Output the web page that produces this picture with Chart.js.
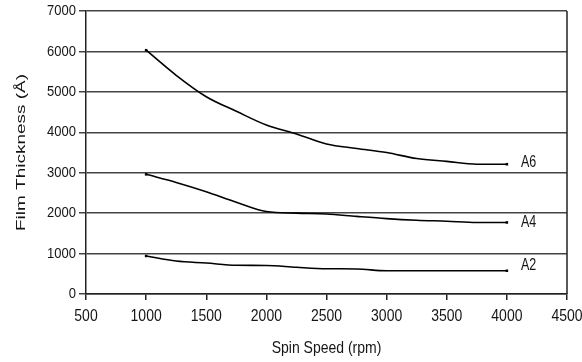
<!DOCTYPE html>
<html>
<head>
<meta charset="utf-8">
<script src="https://cdn.jsdelivr.net/npm/chart.js@4.4.1/dist/chart.umd.min.js"></script>
<style>
  html, body { margin: 0; padding: 0; background: #fff; }
  #wrap { width: 582px; height: 362px; position: relative; }
</style>
</head>
<body>
<div id="wrap"><canvas id="c" width="582" height="362"></canvas></div>
<script>
// ---- Data ----
const rpm = [1000, 1250, 1500, 1750, 2000, 2250, 2500, 2750, 3000, 3250, 3500, 3750, 4000];
const a6 = [6030, 5410, 4880, 4520, 4180, 3960, 3710, 3600, 3500, 3350, 3280, 3210, 3210];
const a4 = [2960, 2760, 2530, 2270, 2040, 2000, 1980, 1920, 1865, 1825, 1800, 1770, 1770];
const a2 = [940, 815, 765, 710, 705, 660, 625, 620, 575, 575, 575, 575, 575];
const seriesNames = ['A6', 'A4', 'A2'];
const xTicks = [500, 1000, 1500, 2000, 2500, 3000, 3500, 4000, 4500];
const yTicks = [0, 1000, 2000, 3000, 4000, 5000, 6000, 7000];
const xTitle = 'Spin Speed (rpm)';
const yTitle = 'Film Thickness (Å)';

const FONT = '"Liberation Sans", Arial, Helvetica, sans-serif';
const TXT = '#161616';

function ds(name, vals) {
  const last = vals.length - 1;
  return {
    label: name,
    data: rpm.map((x, i) => ({ x: x, y: vals[i] })),
    borderColor: '#000',
    backgroundColor: '#000',
    borderWidth: 1.6,
    cubicInterpolationMode: 'monotone',
    pointStyle: 'rect',
    pointRadius: (ctx) => (ctx.dataIndex === 0 || ctx.dataIndex === last) ? 1.8 : 0,
    pointBorderWidth: 0,
    fill: false
  };
}

const labelDy = { A6: -2, A4: 0, A2: -5 };

function tallText(ctx, text, x, y, sy) {
  ctx.save();
  ctx.translate(x, y);
  ctx.scale(1, sy);
  ctx.fillText(text, 0, 0);
  ctx.restore();
}

const decor = {
  id: 'decor',
  afterDraw(chart) {
    const ctx = chart.ctx;
    const ca = chart.chartArea;
    const xs = chart.scales.x, ys = chart.scales.y;
    ctx.save();
    // right border
    ctx.strokeStyle = '#222';
    ctx.lineWidth = 1.5;
    ctx.beginPath();
    ctx.moveTo(ca.right, ca.top);
    ctx.lineTo(ca.right, ca.bottom);
    ctx.stroke();

    ctx.fillStyle = TXT;

    // y tick labels
    ctx.font = '13px ' + FONT;
    ctx.textAlign = 'right';
    ctx.textBaseline = 'middle';
    yTicks.forEach((v) => tallText(ctx, String(v), ca.left - 10, ys.getPixelForValue(v), 1.15));

    // x tick labels
    ctx.font = '14px ' + FONT;
    ctx.textAlign = 'center';
    xTicks.forEach((v) => tallText(ctx, String(v), xs.getPixelForValue(v), ca.bottom + 23, 1.15));

    // series labels
    ctx.font = '12.5px ' + FONT;
    ctx.textAlign = 'left';
    chart.data.datasets.forEach((d) => {
      const p = d.data[d.data.length - 1];
      const px = xs.getPixelForValue(p.x) + 14;
      const py = ys.getPixelForValue(p.y) + (labelDy[d.label] || 0);
      tallText(ctx, d.label, px, py, 1.3);
    });

    // x title
    ctx.font = '14px ' + FONT;
    ctx.textAlign = 'center';
    tallText(ctx, xTitle, (ca.left + ca.right) / 2, 349, 1.15);

    // y title (stretched along its length as in the reference)
    ctx.font = '12px ' + FONT;
    const w = ctx.measureText(yTitle).width;
    const sx = 157 / w;
    ctx.translate(22, (ca.top + ca.bottom) / 2);
    ctx.rotate(-Math.PI / 2);
    ctx.scale(sx, 1);
    ctx.fillText(yTitle, 0, 0);
    ctx.restore();
  }
};

new Chart(document.getElementById('c'), {
  type: 'line',
  data: { datasets: [ds('A6', a6), ds('A4', a4), ds('A2', a2)] },
  options: {
    responsive: false,
    animation: false,
    layout: { padding: { top: 11, right: 15, left: 0, bottom: 0 } },
    plugins: { legend: { display: false }, tooltip: { enabled: false } },
    scales: {
      x: {
        type: 'linear',
        min: 500, max: 4500,
        afterBuildTicks: (s) => { s.ticks = xTicks.map(v => ({ value: v })); },
        afterFit: (s) => { s.height = 68; s.paddingLeft = 0; s.paddingRight = 0; },
        ticks: { display: false },
        grid: { drawOnChartArea: false, drawTicks: true, tickLength: 6, color: '#222', lineWidth: 1.5 },
        border: { display: true, color: '#222', width: 1.5 }
      },
      y: {
        min: 0, max: 7000,
        afterBuildTicks: (s) => { s.ticks = yTicks.map(v => ({ value: v })); },
        afterFit: (s) => { s.width = 86; s.paddingTop = 0; s.paddingBottom = 0; },
        ticks: { display: false },
        grid: { color: '#444', lineWidth: 1.5, tickLength: 7, drawTicks: true },
        border: { display: true, color: '#222', width: 1.5 }
      }
    }
  },
  plugins: [decor]
});
</script>
</body>
</html>
